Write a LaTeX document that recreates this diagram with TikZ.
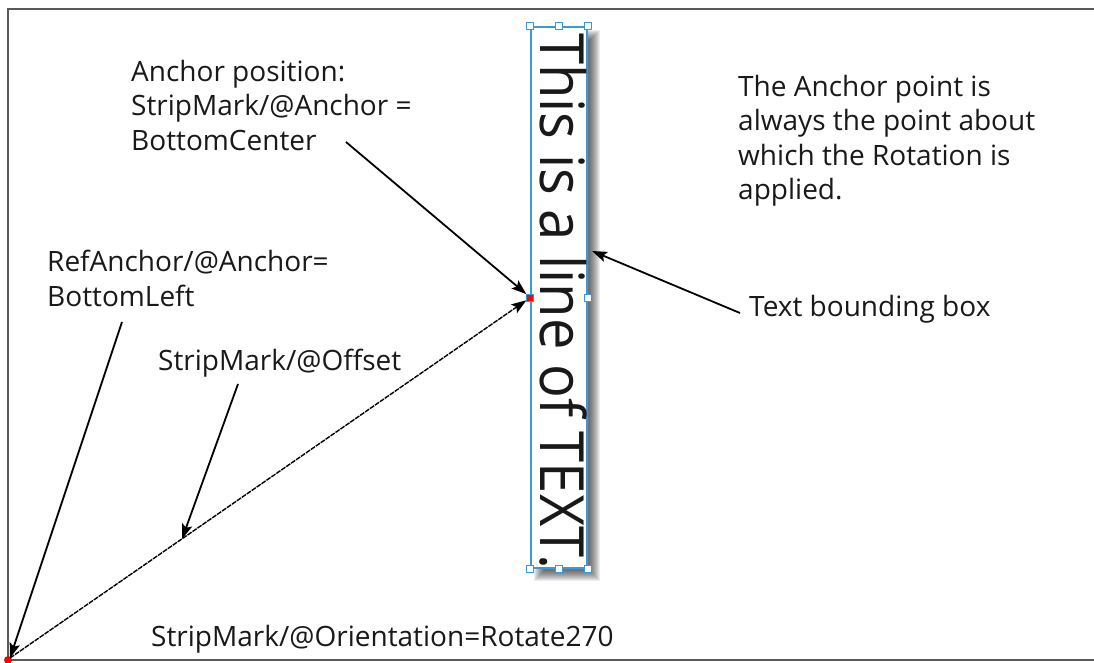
\documentclass[tikz,border=0pt]{standalone}
\usepackage{fontspec}
\setmainfont{Open Sans}
\newfontfamily\narrowfont{Open Sans}[FakeStretch=0.92]
\usetikzlibrary{arrows.meta}
\begin{document}
\begin{tikzpicture}[x=1pt,y=-1pt,
  lbl/.style={anchor=north west,inner sep=0pt,align=left,font=\fontsize{28}{34.5}\selectfont,text=black!90},
  tip/.style={-{Stealth[length=15pt,width=10.5pt,inset=3pt]}},
  arr/.style={line width=1.8pt,tip},
  handle/.style={draw=cyan!70!blue!80,fill=white,line width=1pt,minimum size=7pt,inner sep=0pt},
  frame/.style={draw=black!65,line width=1.8pt}]
\useasboundingbox (0,0) rectangle (1094,662);
% frame
\draw[frame] (1100,9) -- (8,9) -- (8,660) -- (1100,660);
% shadow
\foreach \k in {0,...,10}{
  \fill[black,opacity=0.07] (531+8-5+\k,27+8-5+\k) rectangle (587+8+5-\k,568+8+5-\k);
}
% text box
\node[draw=cyan!70!blue!80,fill=white,line width=1.3pt,minimum width=56pt,minimum height=541pt,inner sep=0pt] (tb) at (559,297.5) {};
\node[rotate=-90,anchor=base west,inner sep=0pt,font=\narrowfont\fontsize{61}{61}\selectfont,text=black!90] (big) at (540,33) {This is a line of TEXT.};
% handles
\node[handle] (h1) at (tb.north west) {};
\node[handle] (h2) at (tb.north) {};
\node[handle] (h3) at (tb.north east) {};
\node[handle] (h4) at (tb.east) {};
\node[handle] (h5) at (tb.south west) {};
\node[handle] (h6) at (tb.south) {};
\node[handle] (h7) at (tb.south east) {};
\node[draw=cyan!70!blue!80,fill=red,line width=1pt,minimum size=7pt,inner sep=0pt] (anc) at (tb.west) {};
% origin
\node[circle,fill=red,minimum size=8pt,inner sep=0pt] (org) at (8,660) {};
% labels
\node[lbl] (l1) at (131,60) {Anchor position:\\StripMark/@Anchor =\\BottomCenter};
\node[lbl] (l2) at (738,75) {The Anchor point is\\always the point about\\which the Rotation is\\applied.};
\node[lbl] (l3) at (47,250) {RefAnchor/@Anchor=\\BottomLeft};
\node[lbl] (l4) at (158,349) {StripMark/@Offset};
\node[lbl] (l5) at (749,295) {Text bounding box};
\node[lbl] (l6) at (151,625) {StripMark/@Orientation=Rotate270};
% connector endpoints
\coordinate (c1) at (346,142);
\coordinate (c2) at (122,322);
\coordinate (c3) at (238,384);
\coordinate (c3e) at (182,539);
\coordinate (c5) at (740,313);
\coordinate (c5e) at (592,251);
\coordinate (org2) at (10,658);
% connectors
\draw[line width=1.4pt,dash pattern=on 5pt off 1pt,tip] (org2) -- (anc);
\draw[arr] (c1) -- (anc);
\draw[arr] (c2) -- (org2);
\draw[arr] (c3) -- (c3e);
\draw[arr] (c5) -- (c5e);
\end{tikzpicture}
\end{document}
